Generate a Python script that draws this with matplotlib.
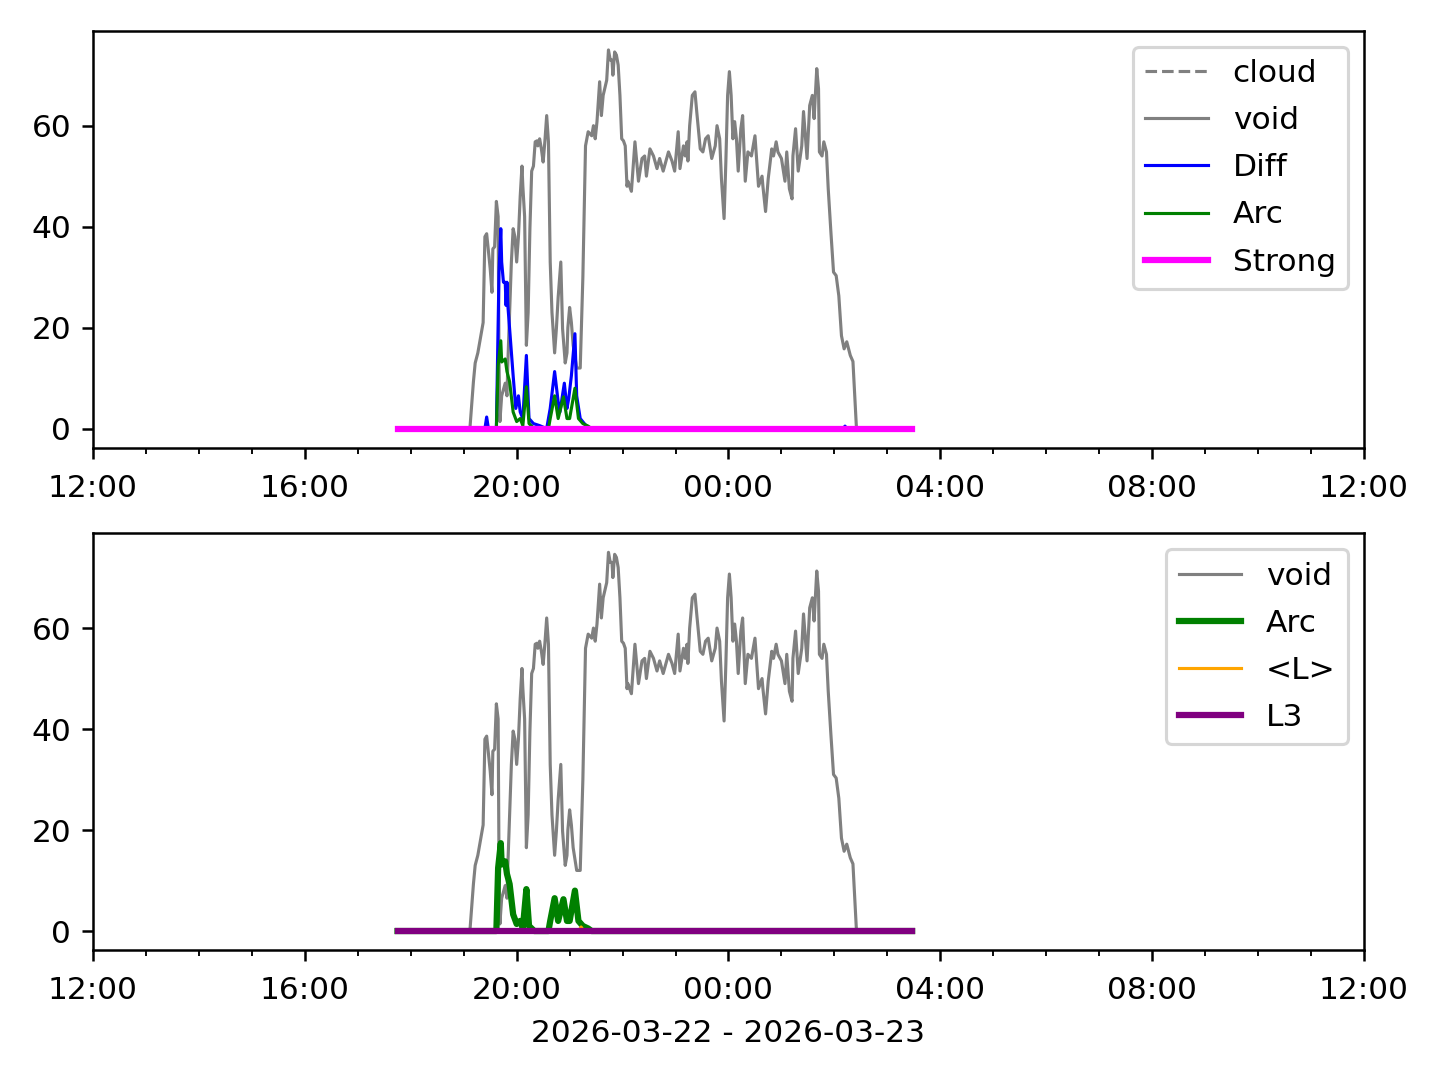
from datetime import datetime, timedelta

import matplotlib
matplotlib.use("Agg")
import matplotlib.dates as mdates
import matplotlib.pyplot as plt


DAY0 = datetime(2026, 3, 22)
X_START = datetime(2026, 3, 22, 12, 0)
X_END = datetime(2026, 3, 23, 12, 0)

# series span (Strong / L3 flat lines)
span_times = ["17:45", "03:28"]
strong_vals = [0, 0]
l3_vals = [0, 0]

void_times = [
    "17:45", "19:07", "19:11", "19:13", "19:16", "19:20", "19:22", "19:24", "19:26", "19:30",
    "19:32", "19:33", "19:35", "19:37", "19:39", "19:40", "19:41", "19:43", "19:47", "19:49",
    "19:50", "19:54", "19:56", "19:58", "20:00", "20:02", "20:04", "20:06", "20:07", "20:09",
    "20:11", "20:13", "20:15", "20:17", "20:19", "20:21", "20:23", "20:24", "20:26", "20:28",
    "20:30", "20:32", "20:34", "20:36", "20:38", "20:40", "20:43", "20:45", "20:47", "20:50",
    "20:52", "20:55", "20:57", "20:58", "21:00", "21:02", "21:04", "21:08", "21:12", "21:15",
    "21:18", "21:21", "21:25", "21:27", "21:29", "21:31", "21:34", "21:36", "21:38", "21:42",
    "21:44", "21:46", "21:48", "21:49", "21:51", "21:53", "21:55", "21:57", "21:59", "22:01",
    "22:03", "22:05", "22:06", "22:10", "22:14", "22:18", "22:22", "22:25", "22:27", "22:31",
    "22:35", "22:39", "22:42", "22:46", "22:52", "22:56", "22:59", "23:03", "23:05", "23:09",
    "23:11", "23:13", "23:14", "23:16", "23:19", "23:22", "23:24", "23:28", "23:31", "23:34",
    "23:37", "23:41", "23:45", "23:47", "23:50", "23:52", "23:55", "23:57", "23:59", "00:01",
    "00:03", "00:05", "00:07", "00:09", "00:11", "00:14", "00:16", "00:19", "00:22", "00:26",
    "00:30", "00:34", "00:38", "00:39", "00:42", "00:45", "00:49", "00:51", "00:54", "00:56",
    "01:00", "01:04", "01:06", "01:09", "01:12", "01:13", "01:16", "01:19", "01:23", "01:25",
    "01:27", "01:29", "01:32", "01:35", "01:37", "01:40", "01:42", "01:43", "01:46", "01:48",
    "01:51", "01:53", "01:56", "01:59", "02:02", "02:05", "02:08", "02:11", "02:14", "02:18",
    "02:21", "02:23", "02:25", "03:28",
]
void_vals = [
    0, 0, 9.3, 13, 15, 19, 21, 38, 38.6, 31.7,
    27, 35.6, 36, 45, 42, 13, 1.4, 6.5, 9, 6.5,
    13, 33, 39.6, 38, 33, 38, 46, 52, 48, 42,
    16.5, 23, 39.6, 51, 52, 56.8, 57, 56, 57.4, 55.4,
    52.8, 57, 62, 56.8, 33, 23, 15, 19.8, 26, 33,
    19.8, 13, 15, 20, 24, 21, 16.5, 12, 12, 30,
    56, 58.8, 58, 60, 57.4, 60.8, 68.7, 62, 66, 69,
    75, 73, 73, 70, 74.6, 74, 72, 66, 57.4, 57,
    56, 48, 49, 47, 56.8, 49, 53.5, 54, 50, 55.4,
    54, 51.5, 53.5, 51, 54.8, 53, 51, 58.8, 51.5, 56,
    54, 56.8, 53, 60, 66, 66.7, 62.8, 55.4, 54.8, 57.4,
    58, 53.5, 56, 60, 57.4, 49.5, 41.6, 52.8, 66, 70.7,
    66, 57.4, 60.8, 57.4, 51, 59.4, 62, 49, 54.8, 54,
    58, 48, 50, 48, 43, 49.5, 55.4, 54, 56.8, 54.8,
    53.5, 49, 54.8, 47.5, 45.5, 54, 59.4, 51, 56, 62.8,
    58, 53.5, 64, 66, 61.4, 71.3, 67.3, 54.8, 54, 56.8,
    54.8, 47.5, 39, 31, 30.3, 26.3, 18.4, 15.8, 17.2, 14.5,
    13.3, 6.5, 0, 0,
]

diff_times = [
    "17:45", "19:24", "19:26", "19:28", "19:37", "19:40", "19:42", "19:43", "19:45", "19:47",
    "19:48", "19:49", "19:50", "19:52", "19:56", "19:59", "20:02", "20:04", "20:07", "20:11",
    "20:14", "20:19", "20:26", "20:34", "20:38", "20:43", "20:47", "20:49", "20:54", "20:57",
    "20:59", "21:02", "21:06", "21:08", "21:12", "21:19", "21:23", "02:10", "02:12", "02:14",
    "03:28",
]
diff_vals = [
    0, 0, 2.3, 0, 0, 31, 39.6, 33, 29, 29,
    24.4, 29, 24.4, 19.8, 10.5, 4, 6.5, 3.3, 2, 14.5,
    2, 1, 0.6, 0, 4, 11.3, 5.3, 3.3, 9, 4,
    6, 10.5, 18.8, 6.5, 2, 0.5, 0, 0, 0.5, 0,
    0,
]

arc_times = [
    "17:45", "19:37", "19:39", "19:42", "19:43", "19:47", "19:49", "19:52", "19:56", "20:00",
    "20:04", "20:07", "20:11", "20:14", "20:20", "20:36", "20:38", "20:43", "20:47", "20:53",
    "20:57", "21:00", "21:06", "21:10", "21:15", "21:21", "21:25", "03:28",
]
arc_vals = [
    0, 0, 12.5, 17.4, 13.2, 13.8, 11.3, 9.3, 3.3, 1.4,
    2, 0.6, 8.3, 1, 0, 0, 2, 6.5, 2, 6.3,
    2, 2, 8, 2, 1, 0.5, 0, 0,
]

l_times = ["17:45", "21:10", "21:13", "21:16", "03:28"]
l_vals = [0, 0, 0.8, 0, 0]


def to_dt(times):
    out = []
    for t in times:
        h, m = map(int, t.split(":"))
        d = DAY0 + timedelta(hours=h, minutes=m)
        if h < 12:
            d += timedelta(days=1)
        out.append(d)
    return out


def style_axis(ax):
    ax.set_xlim(X_START, X_END)
    ax.xaxis.set_major_locator(mdates.HourLocator(byhour=range(0, 24, 4)))
    ax.xaxis.set_minor_locator(mdates.HourLocator())
    ax.xaxis.set_major_formatter(mdates.DateFormatter("%H:%M"))
    ax.tick_params(axis="x", which="major", pad=4.8)


def main() -> None:
    fig, (ax1, ax2) = plt.subplots(2, 1, figsize=(6.4, 4.8), dpi=225)

    ax1.plot([], [], "--", color="gray", lw=1, label="cloud")
    ax1.plot(to_dt(void_times), void_vals, color="gray", lw=1, label="void")
    ax1.plot(to_dt(diff_times), diff_vals, color="blue", lw=1, label="Diff")
    ax1.plot(to_dt(arc_times), arc_vals, color="green", lw=1, label="Arc")
    ax1.plot(to_dt(span_times), strong_vals, color="magenta", lw=2, label="Strong")
    ax1.legend(loc="upper right", labelspacing=0.58)
    style_axis(ax1)

    ax2.plot(to_dt(void_times), void_vals, color="gray", lw=1, label="void")
    ax2.plot(to_dt(arc_times), arc_vals, color="green", lw=2, label="Arc")
    ax2.plot(to_dt(l_times), l_vals, color="orange", lw=1, label="<L>")
    ax2.plot(to_dt(span_times), l3_vals, color="purple", lw=2, label="L3")
    ax2.legend(loc="upper right", labelspacing=0.58)
    style_axis(ax2)
    ax2.set_xlabel("2026-03-22 - 2026-03-23", labelpad=4.6)

    fig.subplots_adjust(left=0.0646, right=0.9472, top=0.9713, bottom=0.1204, hspace=0.206)
    fig.savefig("out.png", dpi=225)


if __name__ == "__main__":
    main()
